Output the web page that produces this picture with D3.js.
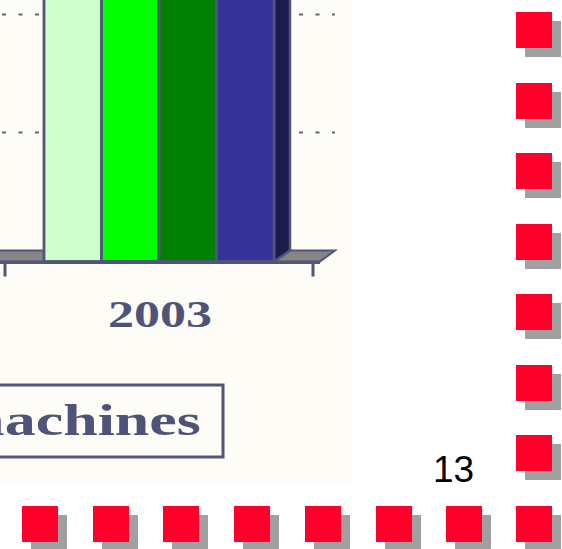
<!DOCTYPE html>
<html>
<head>
<meta charset="utf-8">
<script src="https://cdn.jsdelivr.net/npm/d3@7"></script>
<style>
  html, body { margin:0; padding:0; background:#fff; }
  svg { display:block; }
</style>
</head>
<body>
<div id="chart"></div>
<script>
// data (bar tops run off the top edge)
var categories = ["2003"];
var seriesColors = ["#ccffcc", "#00ff00", "#008000", "#333399"];
var values2003 = [62, 70, 66, 75];
var gridValues = [20, 40, 60];
var legendLabels = ["machines"];
var pageNumber = "13";

var W = 562, H = 549;
var ink = "#525578";
var depthX = 15, depthY = -11;

var svg = d3.select("#chart").append("svg")
    .attr("width", W)
    .attr("height", H);

// cream slide area
svg.append("rect").attr("x",0).attr("y",0).attr("width",351).attr("height",482)
    .attr("fill","#fdfcf6");

var x0 = d3.scaleBand().domain(categories).range([5, 313]);
var x1 = d3.scaleBand().domain(d3.range(seriesColors.length)).range([44, 274]);
// y of the back wall; front face is shifted by the depth
var y = d3.scaleLinear().domain([0, 20]).range([250.5, 132.5]);

var g = svg.append("g");

// back wall grid (dashed)
g.selectAll("line.grid").data(gridValues).enter().append("line")
    .attr("class","grid")
    .attr("x1", 2).attr("x2", x0.range()[1] + 7 + depthX)
    .attr("y1", function(d){ return y(d); })
    .attr("y2", function(d){ return y(d); })
    .attr("stroke", "#5f6283")
    .attr("stroke-width", 2)
    .attr("stroke-dasharray", "4,12.5");

// floor
var fx0 = -30, fx1 = x0.range()[1] + 7, fy = y(0) - depthY;
g.append("path")
    .attr("d", "M"+fx0+","+fy+" L"+fx1+","+fy+" L"+(fx1+depthX)+","+(fy+depthY)+" L"+(fx0+depthX)+","+(fy+depthY)+"Z")
    .attr("fill","#858585")
    .attr("stroke", ink)
    .attr("stroke-width", 2);
// front edge of the floor
g.append("line")
    .attr("x1", fx0).attr("x2", fx1)
    .attr("y1", fy+1).attr("y2", fy+1)
    .attr("stroke", ink).attr("stroke-width", 3);

// category ticks
var tickXs = [x0.range()[0], x0.range()[1]];
g.selectAll("line.tick").data(tickXs).enter().append("line")
    .attr("class","tick")
    .attr("x1", function(d){ return d; }).attr("x2", function(d){ return d; })
    .attr("y1", fy+1).attr("y2", fy+15)
    .attr("stroke", ink).attr("stroke-width", 3);

// bars
var bars = g.append("g").attr("transform","translate("+(x0(categories[0]) - x0.range()[0])+",0)");
var last = values2003.length - 1;
// side face of the last bar (only one visible)
var sx = x1(last) + x1.bandwidth();
var sTop = y(values2003[last]) - depthY;
bars.append("path")
    .attr("d", "M"+sx+","+sTop+" L"+(sx+depthX+1)+","+(sTop+depthY)+" L"+(sx+depthX+1)+","+(fy+depthY)+" L"+sx+","+fy+"Z")
    .attr("fill","#1c1b4d")
    .attr("stroke", ink).attr("stroke-width", 2.5);

bars.selectAll("rect.bar").data(values2003).enter().append("rect")
    .attr("class","bar")
    .attr("x", function(d,i){ return x1(i); })
    .attr("width", x1.bandwidth())
    .attr("y", function(d){ return y(d) - depthY; })
    .attr("height", function(d){ return fy - (y(d) - depthY); })
    .attr("fill", function(d,i){ return seriesColors[i]; })
    .attr("stroke", ink).attr("stroke-width", 2.8);

// category label
svg.selectAll("text.cat").data(categories).enter().append("text")
    .attr("class","cat")
    .attr("x", function(d){ return x0(d) + x0.bandwidth()/2 + 1; })
    .attr("y", 327)
    .attr("text-anchor","middle")
    .attr("textLength", 104)
    .attr("lengthAdjust","spacingAndGlyphs")
    .style("font-family","'Liberation Serif','Times New Roman',serif")
    .style("font-weight","bold")
    .style("font-size","37px")
    .style("fill","#4f5379")
    .text(function(d){ return d; });

// legend box (its left part runs off the picture)
svg.append("rect")
    .attr("x", -40).attr("y", 385)
    .attr("width", 263).attr("height", 72)
    .attr("fill","#fdfcf6")
    .attr("stroke", ink).attr("stroke-width", 3);
svg.selectAll("text.leg").data(legendLabels).enter().append("text")
    .attr("class","leg")
    .attr("x", 201).attr("y", 435)
    .attr("text-anchor","end")
    .attr("textLength", 248)
    .attr("lengthAdjust","spacingAndGlyphs")
    .style("font-family","'Liberation Serif','Times New Roman',serif")
    .style("font-weight","bold")
    .style("font-size","44px")
    .style("fill","#4f5379")
    .text(function(d){ return d; });

// page number
svg.append("text")
    .attr("x", 433).attr("y", 482)
    .style("font-family","'Liberation Sans',Arial,sans-serif")
    .style("font-size","37px")
    .style("fill","#000")
    .text(pageNumber);

// red squares border
var sq = 36, sh = 9;
var idx = d3.range(8);
var colY = d3.scaleLinear().domain([0,7]).range([12, 506]);
var rowX = d3.scaleLinear().domain([0,7]).range([22, 517]);
var squares = idx.map(function(i){ return {x:516, y:colY(i)}; })
    .concat(idx.slice(0,7).map(function(i){ return {x:rowX(i), y:506}; }));

var sg = svg.append("g");
sg.selectAll("rect.sh").data(squares).enter().append("rect")
    .attr("x", function(d){ return Math.round(d.x) + sh; })
    .attr("y", function(d){ return Math.round(d.y) + sh; })
    .attr("width", sq).attr("height", sq)
    .attr("fill","#a0a0a0");
sg.selectAll("rect.sq").data(squares).enter().append("rect")
    .attr("x", function(d){ return Math.round(d.x); })
    .attr("y", function(d){ return Math.round(d.y); })
    .attr("width", sq).attr("height", sq)
    .attr("fill","#ff002b");
</script>
</body>
</html>
